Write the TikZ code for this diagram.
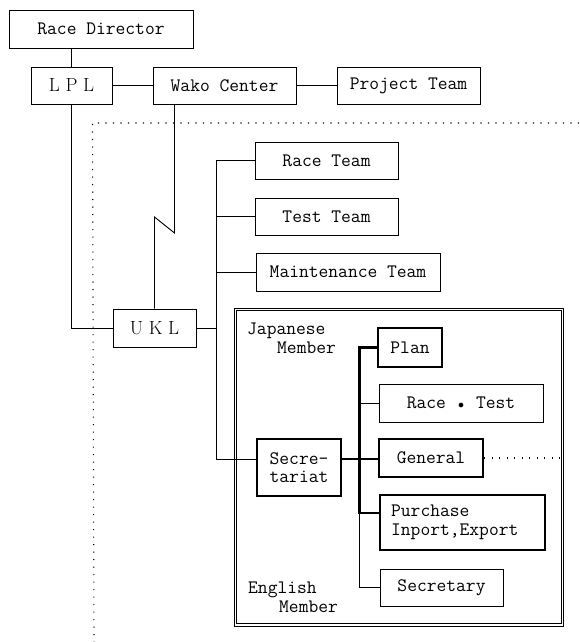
\documentclass[tikz,border=0pt]{standalone}
\usepackage{fontspec}
\begin{document}
\begin{tikzpicture}[x=1pt,y=-1pt,
  box/.style={draw, line width=0.9pt, inner sep=0pt, font=\ttfamily\fontsize{19}{18.5}\selectfont, align=center},
  thickbox/.style={box, line width=2.3pt},
  rmbox/.style={box, font=\rmfamily\fontsize{19}{22}\selectfont},
  lbl/.style={inner sep=0pt, font=\ttfamily\fontsize{19}{18.5}\selectfont, anchor=base west},
  conn/.style={line width=0.9pt},
  thickconn/.style={line width=2.3pt},
  dots/.style={line width=1.1pt, dash pattern=on 1.1pt off 6.4pt}]
\useasboundingbox (0,0) rectangle (579,642);

% group double frame
\node[draw, double, double distance=1.6pt, line width=0.8pt, inner sep=0pt,
      minimum width=327pt, minimum height=315.5pt] (grp) at (399,467.2) {};

% nodes
\node[box, minimum width=184pt, minimum height=38pt] (rd) at (101,29) {Race Director};
\node[rmbox, minimum width=81pt, minimum height=37pt] (lpl) at (71.5,85.5) {L P L};
\node[box, minimum width=143pt, minimum height=37pt] (wako) at (224.5,85.5) {Wako Center};
\node[box, minimum width=143pt, minimum height=37pt] (proj) at (408.5,85.5) {Project Team};
\node[box, minimum width=143pt, minimum height=37pt] (raceteam) at (326.5,160.5) {Race Team};
\node[box, minimum width=143pt, minimum height=37pt] (testteam) at (326.5,216.5) {Test Team};
\node[box, minimum width=184pt, minimum height=38pt] (maint) at (348,272) {Maintenance Team};
\node[rmbox, minimum width=83pt, minimum height=38pt] (ukl) at (154.5,328) {U K L};
\node[thickbox, minimum width=84pt, minimum height=57pt, align=left] (secr) at (299,467.5) {Secre-\\tariat};
\node[thickbox, minimum width=64pt, minimum height=39pt] (plan) at (410,347.5) {Plan};
\node[box, minimum width=164pt, minimum height=38pt] (racetest) at (461,403) {Race\hspace{12pt}{\fontsize{13}{13}\selectfont$\bullet$}\hspace{12pt}Test};
\node[thickbox, minimum width=104pt, minimum height=38pt] (general) at (431,458) {General};
\node[thickbox, anchor=west, text width=143pt, inner xsep=11pt, minimum height=55pt, align=left] (purchase) at (379,522.5) {Purchase\\Inport,Export};
\node[box, minimum width=123pt, minimum height=37pt] (secretary) at (441.5,587.5) {Secretary};

% labels
\node[lbl] (jp1) at (247,334) {Japanese};
\node[lbl] (jp2) at (277,353) {Member};
\node[lbl] (en1) at (248,593) {English};
\node[lbl] (en2) at (279,612) {Member};

% coordinates
\coordinate (z1) at (174.5,233);
\coordinate (z2) at (154.5,217);
\coordinate (tk) at (216,459);
\coordinate (it) at (359.5,459);
\coordinate (ip) at (359.5,513);
\coordinate (dR) at (579,123);
\coordinate (d0) at (92.5,123);
\coordinate (dB) at (94,642);

% connectors
\draw[conn] (lpl.north) -- (lpl.north |- rd.south);
\draw[conn] (lpl.east) -- (wako.west);
\draw[conn] (wako.east) -- (proj.west);
\draw[conn] (lpl.south) |- (ukl.west);
\draw[conn] (z1 |- wako.south) -- (z1) -- (z2) -- (ukl.north);

\draw[conn] (raceteam.west) -| (tk) -- (tk -| secr.west);
\draw[conn] (testteam.west) -- (testteam.west -| tk);
\draw[conn] (maint.west) -- (maint.west -| tk);
\draw[conn] (ukl.east) -- (ukl.east -| tk);

\draw[thickconn] (plan.west) -| (ip) -- (ip -| purchase.west);
\draw[thickconn] (it -| secr.east) -- (it -| general.west);
\draw[conn] (ip) |- (secretary.west);
\draw[conn] (racetest.west) -- (racetest.west -| it);

% dotted boundaries
\draw[dots] (dR) -- (d0) -- (dB);
\draw[dots] (general.east) -- (general.east -| grp.east);
\end{tikzpicture}
\end{document}
